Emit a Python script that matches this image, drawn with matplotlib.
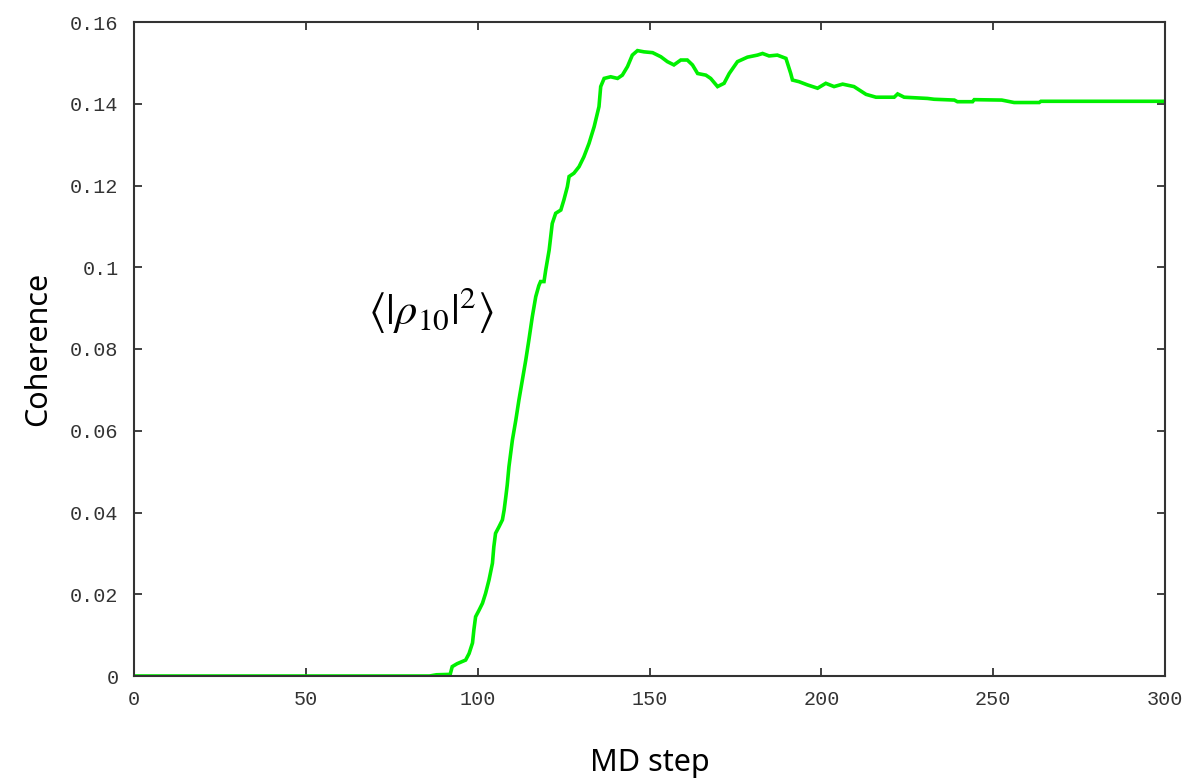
import matplotlib
matplotlib.use("Agg")
import matplotlib.pyplot as plt

md_step = [0, 86, 88, 92, 92.6, 94, 96.5, 97.5, 98.5, 98.9,
           99.4, 100.4, 101.4, 102.3, 103.3, 104.3, 104.7, 105.2, 106.2, 107.2,
           107.7, 108.2, 108.6, 109.1, 110.1, 111.1, 112.0, 113.0, 114.0, 114.9,
           115.9, 116.9, 117.8, 118.3, 119.3, 119.8, 120.8, 121.7, 122.7, 124.2,
           125.1, 126.1, 126.6, 128.0, 129.5, 130.9, 132.4, 133.9, 135.3, 135.8,
           136.8, 138.7, 140.7, 142.1, 143.6, 145.0, 146.5, 148.4, 150.9, 153.3,
           155.2, 157.1, 159.1, 161.0, 162.5, 164.0, 166.4, 167.8, 169.8, 171.7,
           173.2, 175.6, 178.5, 181.4, 182.9, 184.8, 187.2, 189.7, 191.1, 191.6,
           193.5, 196.0, 198.9, 201.3, 203.7, 206.2, 209.5, 213.0, 215.9, 221.2,
           222.2, 224.1, 230.9, 232.8, 238.7, 239.6, 244.0, 244.5, 252.5, 256.1,
           263.4, 263.9, 300]
coherence = [0, 0, 0.0003, 0.0004, 0.0023, 0.0030, 0.0039, 0.0055, 0.0081, 0.0113,
             0.0145, 0.0161, 0.0178, 0.0202, 0.0235, 0.0276, 0.0316, 0.0349, 0.0365, 0.0382,
             0.0406, 0.0439, 0.0467, 0.0512, 0.0577, 0.0626, 0.0675, 0.0724, 0.0773, 0.0822,
             0.0879, 0.0928, 0.0955, 0.0965, 0.0965, 0.0993, 0.1042, 0.1107, 0.1132, 0.1140,
             0.1165, 0.1197, 0.1222, 0.1230, 0.1246, 0.1270, 0.1303, 0.1344, 0.1393, 0.1442,
             0.1462, 0.1466, 0.1462, 0.1470, 0.1491, 0.1519, 0.1530, 0.1527, 0.1525, 0.1515,
             0.1503, 0.1495, 0.1507, 0.1507, 0.1495, 0.1474, 0.1470, 0.1462, 0.1442, 0.1450,
             0.1474, 0.1503, 0.1514, 0.1519, 0.1523, 0.1517, 0.1519, 0.1511, 0.1474, 0.1458,
             0.1454, 0.1446, 0.1438, 0.1450, 0.1442, 0.1448, 0.1442, 0.1423, 0.1416, 0.1416,
             0.1424, 0.1416, 0.1413, 0.1411, 0.1409, 0.1405, 0.1405, 0.1410, 0.1409, 0.1403,
             0.1403, 0.1406, 0.1406]

x_ticks = [0, 50, 100, 150, 200, 250, 300]
x_tick_labels = ["0", "50", "100", "150", "200", "250", "300"]
y_ticks = [0, 0.02, 0.04, 0.06, 0.08, 0.1, 0.12, 0.14, 0.16]
y_tick_labels = ["0", "0.02", "0.04", "0.06", "0.08", "0.1", "0.12", "0.14", "0.16"]

plt.rcParams['mathtext.fontset'] = 'stix'

fig = plt.figure(figsize=(11.91, 7.78), dpi=100)
ax = fig.add_axes([134 / 1191, 102 / 778, (1165 - 134) / 1191, (676 - 22) / 778])

ax.plot(md_step, coherence, color="#00f000", lw=2.6, solid_joinstyle="miter")

ax.set_xlim(0, 300)
ax.set_ylim(0, 0.16)
ax.set_xticks(x_ticks)
ax.set_xticklabels(x_tick_labels)
ax.set_yticks(y_ticks)
ax.set_yticklabels(y_tick_labels)

for s in ax.spines.values():
    s.set_color("#333333")
    s.set_linewidth(1.5)

ax.tick_params(direction="in", length=6, width=1.3, color="#333333",
               top=True, right=True, labelsize=14.5, labelcolor="#333333", pad=11)
ax.tick_params(axis="x", pad=10)
for lab in ax.get_xticklabels() + ax.get_yticklabels():
    lab.set_family("Liberation Mono")

ax.set_ylabel("Coherence", family="Noto Sans", fontsize=22, labelpad=12)
ax.set_xlabel("MD step", family="Noto Sans", fontsize=22, labelpad=28)

ax.text(86.5, 0.0895, r'$\langle|\rho_{10}|^2\rangle$', fontsize=32,
        ha="center", va="center", color="black")

fig.savefig("out.png", dpi=100)
